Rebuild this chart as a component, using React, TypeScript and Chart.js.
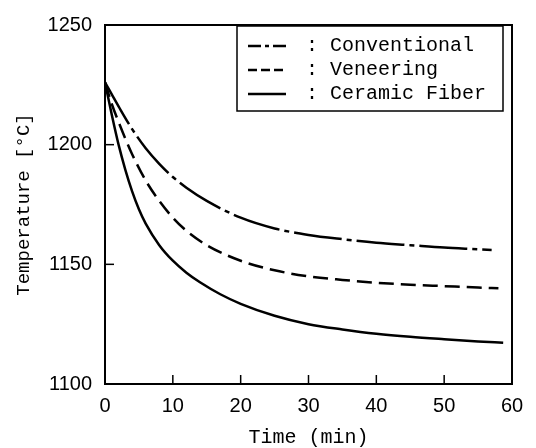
import React, { useEffect, useRef } from "react";
import { Chart, registerables } from "chart.js";

Chart.register(...registerables);

// ---- data ----
const conventionalTime = [0, 1, 2, 4, 6, 8, 10, 12, 15, 20, 25, 30, 35, 40, 45, 50, 55, 57];
const conventionalTemp = [1226, 1221, 1216, 1206.5, 1198.5, 1192, 1186.5, 1182, 1176.5, 1169.5, 1165, 1162.3, 1160.5, 1159, 1158, 1157, 1156.3, 1156];

const veneeringTime = [0, 1, 2, 3, 4, 6, 8, 10, 12, 15, 20, 25, 30, 35, 40, 45, 50, 55, 58];
const veneeringTemp = [1226, 1217, 1209.5, 1202.5, 1196, 1185, 1176.5, 1169.5, 1164, 1158, 1151.5, 1147.5, 1145, 1143.5, 1142.3, 1141.5, 1140.9, 1140.3, 1140];

const ceramicTime = [0, 1, 2, 3, 4, 5, 6, 8, 10, 12, 14, 17, 20, 25, 30, 35, 40, 45, 50, 55, 58.7];
const ceramicTemp = [1226, 1212.5, 1200, 1189.5, 1180.5, 1173, 1167, 1158, 1151.5, 1146.5, 1142.5, 1137.5, 1133.5, 1128.5, 1125, 1122.8, 1121, 1119.7, 1118.7, 1117.8, 1117.2];

const seriesLabels = ["Conventional", "Veneering", "Ceramic Fiber"];
const xTickValues = [0, 10, 20, 30, 40, 50, 60];
const yTickValues = [1100, 1150, 1200, 1250];
const xInnerTicks = [10, 20, 30, 40, 50];
const yInnerTicks = [1150, 1200];

const lineDashes: number[][] = [[48, 5, 5, 5], [15, 7], []];
const legendDashes: number[][] = [[13, 4, 4, 4], [9, 4], []];

const toPoints = (xs: number[], ys: number[]) => xs.map((x, i) => ({ x, y: ys[i] }));

const frameAndLegend = {
  id: "frameAndLegend",
  afterDraw(chart: any) {
    const { ctx, chartArea: a, scales } = chart;
    ctx.save();
    ctx.strokeStyle = "#000";
    ctx.lineWidth = 2;
    ctx.setLineDash([]);
    ctx.strokeRect(a.left, a.top, a.right - a.left, a.bottom - a.top);

    // inward tick marks
    ctx.lineWidth = 1.5;
    for (const v of xInnerTicks) {
      const px = scales.x.getPixelForValue(v);
      ctx.beginPath();
      ctx.moveTo(px, a.bottom);
      ctx.lineTo(px, a.bottom - 9);
      ctx.stroke();
    }
    for (const v of yInnerTicks) {
      const py = scales.y.getPixelForValue(v);
      ctx.beginPath();
      ctx.moveTo(a.left, py);
      ctx.lineTo(a.left + 9, py);
      ctx.stroke();
    }

    // legend box
    const boxL = 237, boxT = 26, boxW = 266, boxH = 85;
    ctx.lineWidth = 1.5;
    ctx.strokeRect(boxL, boxT, boxW, boxH);
    ctx.font = "20px 'Liberation Mono'";
    ctx.fillStyle = "#000";
    ctx.textBaseline = "middle";
    seriesLabels.forEach((label, i) => {
      const y = 46 + i * 24;
      ctx.lineWidth = 2.5;
      ctx.setLineDash(legendDashes[i]);
      ctx.beginPath();
      ctx.moveTo(248, y);
      ctx.lineTo(286, y);
      ctx.stroke();
      ctx.setLineDash([]);
      ctx.textAlign = "center";
      ctx.fillText(":", 312, y);
      ctx.textAlign = "left";
      ctx.fillText(label, 330, y);
    });
    ctx.restore();
  },
};

export default function App() {
  const ref = useRef<HTMLCanvasElement | null>(null);

  useEffect(() => {
    if (!ref.current) return;
    Chart.defaults.font.family = "'Liberation Sans'";
    const sets = [
      toPoints(conventionalTime, conventionalTemp),
      toPoints(veneeringTime, veneeringTemp),
      toPoints(ceramicTime, ceramicTemp),
    ];
    const chart = new Chart(ref.current, {
      type: "line",
      data: {
        datasets: sets.map((d, i) => ({
          label: seriesLabels[i],
          data: d,
          borderColor: "#000",
          backgroundColor: "#000",
          borderWidth: 2.5,
          borderDash: lineDashes[i],
          pointRadius: 0,
          fill: false,
          cubicInterpolationMode: "monotone" as const,
        })),
      },
      options: {
        responsive: false,
        animation: false,
        layout: { padding: { top: 15, right: 24, left: 0, bottom: 0 } },
        plugins: { legend: { display: false }, tooltip: { enabled: false } },
        scales: {
          x: {
            type: "linear",
            min: 0,
            max: 60,
            afterBuildTicks: (s: any) => {
              s.ticks = xTickValues.map((v) => ({ value: v }));
            },
            afterFit: (s: any) => {
              s.height = 64;
            },
            ticks: { color: "#000", font: { size: 20 }, padding: 10, maxRotation: 0, callback: (v: any) => String(v) },
            grid: { display: false, drawTicks: false },
            border: { display: false },
            title: {
              display: true,
              text: "Time (min)",
              color: "#000",
              font: { family: "'Liberation Mono'", size: 20, lineHeight: 1 },
              padding: { top: 0, bottom: 0 },
            },
          },
          y: {
            type: "linear",
            min: 1100,
            max: 1250,
            afterBuildTicks: (s: any) => {
              s.ticks = yTickValues.map((v) => ({ value: v }));
            },
            afterFit: (s: any) => {
              s.width = 105;
            },
            ticks: { color: "#000", font: { size: 20 }, padding: 13, callback: (v: any) => String(v) },
            grid: { display: false, drawTicks: false },
            border: { display: false },
            title: {
              display: true,
              text: "Temperature [°C]",
              color: "#000",
              font: { family: "'Liberation Mono'", size: 19, lineHeight: 1.2 },
              padding: { top: 13, bottom: 0 },
            },
          },
        },
      },
      plugins: [frameAndLegend],
    });
    return () => chart.destroy();
  }, []);

  return (
    <div style={{ position: "absolute", left: 0, top: 0, width: 536, height: 448, background: "#fff" }}>
      <canvas ref={ref} width={536} height={448} />
    </div>
  );
}
